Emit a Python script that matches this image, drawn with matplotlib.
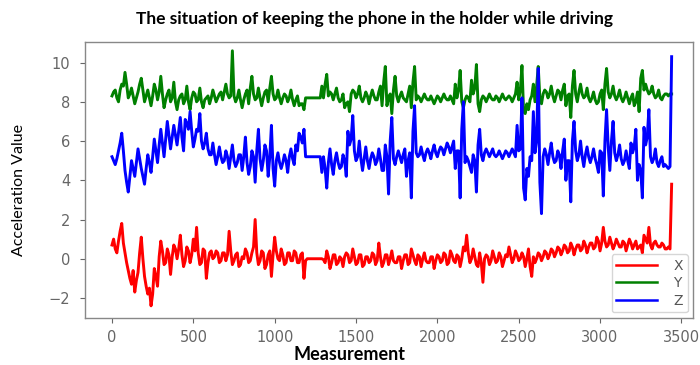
import numpy as np
import matplotlib
matplotlib.use("Agg")
import matplotlib.pyplot as plt

plt.rcParams['font.family'] = ['Lato', 'DejaVu Sans']

title = "The situation of keeping the phone in the holder while driving"
x_label = "Measurement"
y_label = "Acceleration Value"
series_names = ["X", "Y", "Z"]

# readings every 20 measurements (0, 20, ..., 3440)
step = 20
x_vals = [
    0.7, 0.5, 0.9, 1.8, 0.3, -0.6, -1.3, -1.7, -0.7, 1.1, -0.9,
    -1.8, -2.4, -0.5, -1.4, 0.9, -0.3, 0.5, -0.8, 0.7, 0.0,
    1.2, -0.4, 0.6, -0.2, 1.0, 1.6, -0.3, 0.5, -1.0, 0.3,
    0.0, 0.4, -0.2, 0.3, -0.1, 1.4, -0.3, 0.2, -0.4, 0.1,
    0.5, -0.2, 0.3, 2.0, -0.3, 0.4, -0.5, 0.2, -0.9, 1.1,
    0.0, 0.5, -0.3, 0.3, -0.1, 0.4, -0.2, 0.2, -1.0, 0.0,
    0.0, 0.0, 0.0, 0.0, -0.05, 0.4, -0.5, 0.2, -0.3, 0.1,
    -0.4, 0.3, -0.2, 0.5, -0.3, 0.2, -0.4, 0.1, -0.2, 0.3,
    -0.3, 0.8, -0.4, 0.2, -0.3, 0.4, -0.2, 0.1, -0.5, 0.2,
    -0.3, 0.5, -0.1, 0.2, -0.4, 0.3, -0.2, 0.1, -0.5, 0.2,
    -0.2, 0.3, -0.3, 0.4, -0.1, 0.2, -0.4, 0.6, 1.2, -0.2,
    0.5, -0.3, 0.3, -1.2, 0.2, -0.3, 0.4, -0.2, 0.3, -0.4,
    0.2, 0.6, -0.2, 0.4, -0.1, 0.3, -0.4, 0.5, -0.9, -0.2,
    0.3, -0.1, 0.4, 0.0, 0.5, 0.1, 0.6, 0.2, 0.7, 0.3,
    0.8, 0.2, 0.7, 0.4, 0.9, 0.3, 0.8, 0.5, 1.1, 0.4,
    1.6, 0.6, 1.1, 0.5, 1.0, 0.6, 0.9, 0.4, 1.0, 0.5,
    0.9, 0.6, 0.3, 1.0, 1.6, 0.5, 0.9, 0.6, 0.8, 0.5,
    0.6, 3.8,
]
y_vals = [
    8.3, 8.6, 8.0, 8.9, 9.5, 8.2, 8.7, 7.9, 8.5, 9.2, 8.0,
    8.6, 7.8, 8.9, 8.1, 9.3, 7.7, 8.4, 8.0, 9.0, 7.6,
    8.3, 7.9, 8.8, 7.6, 8.5, 8.0, 8.7, 7.7, 8.2, 7.9,
    8.6, 8.0, 8.4, 8.1, 8.9, 8.2, 10.6, 8.0, 8.6, 7.7,
    8.4, 7.9, 9.3, 8.1, 8.7, 7.8, 8.5, 8.0, 9.3, 8.1,
    8.6, 7.9, 8.4, 8.0, 8.6, 7.8, 8.3, 7.9, 7.6, 8.2,
    8.2, 8.2, 8.2, 8.2, 8.2, 9.4, 8.5, 8.1, 8.7, 8.0,
    8.4, 7.9, 7.5, 8.6, 8.2, 8.8, 8.0, 8.5, 7.9, 8.6,
    8.1, 8.5, 7.8, 9.8, 8.2, 7.4, 9.3, 8.0, 8.5, 8.1,
    8.4, 7.7, 9.8, 8.3, 8.0, 8.4, 8.1, 8.3, 7.9, 8.3,
    8.0, 8.4, 8.1, 8.3, 7.9, 8.2, 9.6, 7.7, 8.3, 8.0,
    8.4, 9.9, 7.5, 8.3, 8.0, 8.4, 8.1, 8.3, 8.0, 8.4,
    8.1, 8.3, 8.0, 8.4, 8.1, 9.85, 7.4, 7.6, 8.3, 8.0,
    9.8, 7.9, 8.6, 8.2, 8.8, 8.0, 8.6, 8.1, 8.9, 8.3,
    7.2, 9.6, 8.0, 8.9, 8.2, 8.7, 8.0, 8.5, 7.9, 8.4,
    7.6, 9.7, 8.2, 8.8, 8.1, 8.6, 8.0, 8.5, 7.9, 8.4,
    8.0, 7.5, 9.6, 8.9, 8.4, 8.8, 8.2, 8.6, 8.1, 8.4,
    8.3, 8.4,
]
z_vals = [
    5.2, 4.8, 5.5, 6.4, 4.5, 3.4, 5.0, 4.2, 5.6, 4.6, 3.8,
    5.3, 4.4, 6.1, 4.9, 6.6, 5.2, 7.0, 5.6, 6.8, 5.8,
    7.2, 5.5, 6.9, 7.5, 5.7, 6.6, 7.4, 5.6, 6.4, 5.3,
    5.9, 4.8, 5.7, 4.9, 5.5, 4.6, 5.8, 4.7, 5.3, 4.5,
    6.2, 4.3, 5.5, 3.9, 6.6, 4.5, 5.8, 4.2, 6.8, 3.7,
    5.4, 4.6, 5.3, 4.4, 5.6, 4.8, 5.5, 6.2, 6.6, 5.2,
    5.2, 5.2, 5.2, 5.2, 5.2, 3.6, 5.6, 4.3, 5.4, 4.6,
    5.3, 4.2, 5.8, 7.3, 5.0, 6.0, 4.5, 5.7, 4.6, 5.4,
    4.8, 5.6, 4.5, 5.8, 3.3, 7.2, 4.8, 5.5, 4.9, 5.6,
    5.0, 3.1, 7.8, 5.2, 5.7, 5.0, 5.6, 5.1, 5.8, 5.2,
    5.7, 5.3, 5.9, 5.4, 6.0, 5.5, 3.1, 8.0, 5.2, 4.7,
    5.3, 3.4, 6.6, 5.0, 5.6, 5.2, 5.6, 5.2, 5.5, 5.1,
    5.5, 5.2, 5.6, 5.2, 5.5, 8.2, 3.0, 4.2, 5.0, 5.4,
    9.7, 2.3, 5.6, 4.8, 5.9, 4.9, 5.5, 4.6, 6.1, 5.0,
    2.9, 7.0, 5.0, 6.0, 4.7, 5.7, 4.9, 5.6, 4.8, 5.5,
    3.2, 7.6, 4.5, 7.0, 5.0, 5.8, 4.8, 5.5, 4.6, 5.4,
    6.6, 4.8, 3.1, 5.8, 7.6, 4.9, 5.6, 4.7, 5.2, 4.8,
    4.6, 10.3,
]
# in-between readings (10, 30, ..., 3430)
x_mid = [
    1.0, 0.3, 1.4, 0.8, -0.2, -1.0, -0.6, -1.1, 0.3, 0.0,
    -1.4, -1.5, -1.8, -0.9, 0.1, 0.4, -0.2, 0.2, 0.1, 0.5,
    0.5, 0.2, -0.1, 0.4, 0.2, 0.4, 0.3, -0.2, 0.4, -0.2,
    0.4, 0.1, 0.3, -0.1, 0.3, 0.2, 0.4, -0.1, 0.3, -0.3,
    0.0, 0.3, -0.1, 0.6, 0.3, -0.1, 0.3, -0.3, 0.4, 0.2,
    0.4, -0.1, 0.2, -0.2, 0.3, -0.1, 0.3, -0.2, 0.3, -0.1,
    0.0, 0.0, 0.0, 0.0, 0.0, -0.2, 0.1, -0.2, 0.2, -0.2,
    0.0, 0.1, 0.2, -0.1, 0.1, -0.2, 0.2, -0.3, 0.1, -0.1,
    0.2, -0.1, 0.1, -0.2, 0.2, 0.0, -0.1, -0.2, 0.1, -0.1,
    0.2, -0.2, 0.2, -0.3, 0.1, 0.0, -0.1, -0.2, 0.1, -0.1,
    0.1, -0.1, 0.2, -0.2, 0.2, -0.2, 0.1, 0.0, 0.4, 0.3,
    0.0, 0.1, -0.4, -0.2, 0.0, 0.1, -0.1, 0.1, -0.1, 0.1,
    -0.1, 0.1, 0.2, 0.0, 0.2, 0.0, 0.1, 0.0, -0.4, 0.1,
    0.0, 0.2, 0.1, 0.3, 0.2, 0.4, 0.3, 0.5, 0.4, 0.6,
    0.4, 0.6, 0.5, 0.7, 0.5, 0.7, 0.6, 0.8, 0.6, 0.9,
    0.8, 0.9, 0.7, 0.8, 0.7, 0.8, 0.6, 0.8, 0.7, 0.8,
    0.7, 0.5, 0.7, 1.2, 0.8, 0.7, 0.8, 0.7, 0.6, 0.7,
    0.5, 0.5,
]
y_mid = [
    8.5, 8.2, 8.6, 8.8, 8.9, 8.4, 8.3, 8.2, 8.9, 8.6,
    8.3, 8.2, 8.3, 8.6, 8.5, 8.4, 8.1, 8.6, 8.2, 8.0,
    8.1, 8.4, 8.1, 8.0, 8.2, 8.4, 8.1, 8.0, 8.1, 8.3,
    8.2, 8.3, 8.2, 8.5, 8.5, 8.4, 8.3, 8.3, 8.2, 8.1,
    8.1, 8.6, 8.7, 8.4, 8.2, 8.2, 8.2, 8.6, 8.7, 8.4,
    8.2, 8.2, 8.2, 8.3, 8.2, 8.1, 8.1, 7.8, 7.9, 8.2,
    8.2, 8.2, 8.2, 8.2, 8.8, 8.9, 8.3, 8.4, 8.4, 8.2,
    8.1, 7.7, 8.0, 8.4, 8.5, 8.4, 8.2, 8.2, 8.3, 8.3,
    8.3, 8.1, 8.8, 9.0, 7.8, 8.4, 8.6, 8.3, 8.3, 8.2,
    8.0, 8.8, 9.0, 8.1, 8.2, 8.2, 8.2, 8.1, 8.1, 8.1,
    8.2, 8.2, 8.2, 8.1, 8.1, 8.9, 8.6, 8.0, 8.1, 8.2,
    9.1, 8.7, 7.9, 8.1, 8.2, 8.2, 8.2, 8.1, 8.2, 8.2,
    8.2, 8.2, 8.2, 8.2, 9.0, 8.6, 7.5, 7.9, 8.1, 8.9,
    8.8, 8.2, 8.4, 8.5, 8.4, 8.3, 8.3, 8.5, 8.6, 7.8,
    8.4, 8.8, 8.4, 8.5, 8.4, 8.3, 8.2, 8.2, 8.1, 8.0,
    8.6, 8.9, 8.5, 8.4, 8.3, 8.3, 8.2, 8.2, 8.2, 8.2,
    7.8, 8.5, 9.2, 8.6, 8.6, 8.5, 8.4, 8.3, 8.2, 8.3,
    8.4, 8.4,
]
z_mid = [
    5.0, 5.1, 5.9, 5.5, 3.9, 4.2, 4.6, 4.9, 5.1, 4.2,
    4.6, 4.9, 5.2, 5.5, 5.8, 5.9, 6.1, 6.3, 6.2, 6.3,
    6.5, 6.2, 7.1, 6.6, 6.5, 6.1, 6.5, 6.0, 5.9, 5.6,
    5.3, 5.3, 5.2, 5.2, 5.0, 5.2, 5.2, 5.0, 4.9, 5.3,
    5.2, 4.9, 4.7, 5.2, 5.5, 5.1, 5.0, 5.5, 5.2, 4.6,
    5.0, 4.9, 4.9, 5.0, 5.2, 5.1, 5.8, 6.4, 5.9, 5.2,
    5.2, 5.2, 5.2, 5.2, 4.4, 4.6, 4.9, 4.8, 5.0, 4.9,
    4.7, 5.0, 6.5, 6.1, 5.5, 5.2, 5.1, 5.1, 5.0, 5.1,
    5.2, 5.0, 5.1, 4.5, 5.2, 6.0, 5.1, 5.2, 5.2, 5.3,
    4.2, 5.4, 6.5, 5.4, 5.3, 5.3, 5.4, 5.4, 5.5, 5.4,
    5.5, 5.6, 5.6, 5.7, 5.7, 4.6, 5.5, 6.6, 4.9, 5.0,
    4.4, 5.0, 5.8, 5.3, 5.4, 5.4, 5.4, 5.3, 5.3, 5.3,
    5.3, 5.4, 5.4, 5.4, 6.8, 5.6, 3.6, 4.6, 5.2, 7.5,
    6.0, 3.9, 5.2, 5.3, 5.4, 5.2, 5.0, 5.3, 5.5, 4.0,
    5.0, 6.0, 5.5, 5.3, 5.2, 5.3, 5.2, 5.2, 5.1, 4.4,
    5.4, 6.0, 5.7, 6.0, 5.4, 5.3, 5.1, 5.0, 5.0, 5.9,
    5.7, 4.0, 4.5, 6.7, 6.2, 5.2, 5.1, 4.9, 5.0, 4.7,
    4.7, 4.7,
]
x_ticks = [0, 500, 1000, 1500, 2000, 2500, 3000, 3500]
y_ticks = [-2, 0, 2, 4, 6, 8, 10]


def merge(main, mid):
    out = np.empty(len(main) + len(mid))
    out[0::2] = main
    out[1::2] = mid
    return out


meas = np.arange(len(x_vals) + len(x_mid)) * (step // 2)
series = [merge(x_vals, x_mid), merge(y_vals, y_mid), merge(z_vals, z_mid)]
colors = ['#ff0000', '#008000', '#0000ff']

fig = plt.figure(figsize=(7.0, 3.65), dpi=100)
ax = fig.add_axes([0.1214, 0.1288, 0.869, 0.7562])

for vals, c, name in zip(series, colors, series_names):
    ax.plot(meas, vals, color=c, lw=2.1, label=name)

ax.set_xlim(-166, 3573)
ax.set_ylim(-3.02, 11.05)
ax.set_xticks(x_ticks)
ax.set_yticks(y_ticks)
ax.tick_params(colors='#666666', length=3.5, width=0.8)
ax.tick_params(axis='y', pad=7)
ax.tick_params(axis='x', pad=5)
for lbl in ax.get_xticklabels() + ax.get_yticklabels():
    lbl.set_color('#666666')
    lbl.set_fontfamily('DejaVu Sans')
    lbl.set_fontsize(10.5)
for s in ax.spines.values():
    s.set_color('#888888')
    s.set_linewidth(1.0)

ax.set_xlabel(x_label, fontsize=13, fontweight='bold', color='black')
ax.xaxis.set_label_coords((349 - 85) / 608, (318 - 355) / 276)
ax.xaxis.label.set_va('center')
ax.set_ylabel(y_label, fontsize=11.5, color='black')
ax.yaxis.set_label_coords((19 - 85) / 608, (318 - 190) / 276)
ax.yaxis.label.set_va('center')
fig.text(375 / 700, 1 - 19 / 365, title, ha='center', va='center',
         fontsize=12.5, fontweight='bold', color='black')

leg = ax.legend(loc='lower right', framealpha=0.8,
                edgecolor='#cccccc', handlelength=2.9, handletextpad=1.2,
                labelspacing=0.25, borderpad=0.35, borderaxespad=0.4,
                prop={'family': 'DejaVu Sans', 'size': 10})
for t in leg.get_texts():
    t.set_color('#555555')
for h in leg.get_lines():
    h.set_linewidth(1.8)

fig.savefig('out.png', dpi=100)
